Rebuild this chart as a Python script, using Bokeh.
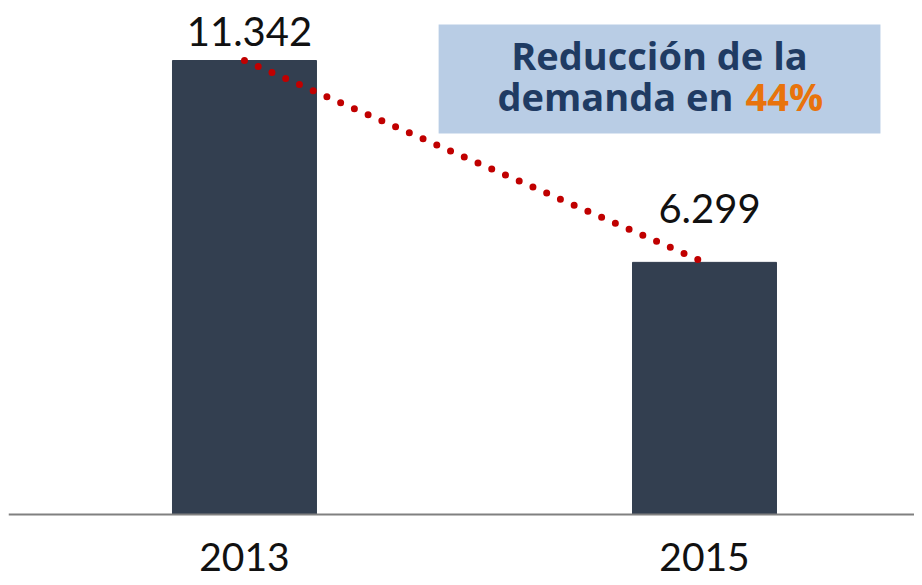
from bokeh.plotting import figure
from bokeh.models import Range1d, ColumnDataSource, BoxAnnotation, Span
from bokeh.embed import file_html
from bokeh.resources import INLINE
from bokeh.core.properties import value

years = [2013, 2015]
year_labels = ["2013", "2015"]
demand = [11342, 6299]
labels = ["11.342", "6.299"]
label_offsets = [-15, -39]
box_line1 = "Reducción de la"
box_line2 = "demanda en"
box_pct = "44%"

src = ColumnDataSource(dict(x=years, top=demand, lab=labels, off=label_offsets,
                            ylab=year_labels, zero=[0, 0]))

p = figure(width=914, height=577, output_backend="svg", toolbar_location=None,
           x_range=Range1d(2011.974, 2015.913), y_range=Range1d(-1574, 12841),
           min_border_left=8, min_border_right=0, min_border_top=0, min_border_bottom=0)
p.background_fill_color = "white"
p.border_fill_color = "white"
p.outline_line_color = None
p.grid.visible = False
p.xaxis.visible = False
p.yaxis.visible = False

# baseline (x axis line)
p.add_layout(Span(location=0, dimension="width", line_color="#808080", line_width=2))

p.vbar(x="x", top="top", width=0.626, bottom=0, source=src, color="#333F50")

p.text(x="x", y="top", text="lab", y_offset="off", x_offset=5, source=src,
       text_align="center", text_baseline="bottom",
       text_font=value("Lato"), text_font_size="40px", text_color="#111111")

# year labels under the axis line
p.text(x="x", y="zero", text="ylab", y_offset=57, source=src,
       text_align="center", text_baseline="bottom",
       text_font=value("Lato"), text_font_size="39px", text_color="#111111")

p.line(x=years, y=demand, line_color="#C00000", line_width=7,
       line_dash="0 15", line_cap="round")

p.add_layout(BoxAnnotation(left=2013.844, right=2015.765, bottom=9518, top=12241,
                           fill_color="#B9CDE5", fill_alpha=1.0, line_color=None, level="underlay"))

bold = dict(text_baseline="bottom", text_font=value("Open Sans"), y_offset=9,
            text_font_style="bold", text_font_size="38px")
p.text(x=[2014.804], y=[11067], text=[box_line1], text_align="center",
       text_color="#1F3B63", **bold)
p.text(x=[2015.178], y=[10018], text=[box_line2], x_offset=-12, text_align="right",
       text_color="#1F3B63", **bold)
p.text(x=[2015.178], y=[10018], text=[box_pct], text_align="left",
       text_color="#E8730C", **bold)

open("out.html", "w").write(file_html(p, INLINE))
